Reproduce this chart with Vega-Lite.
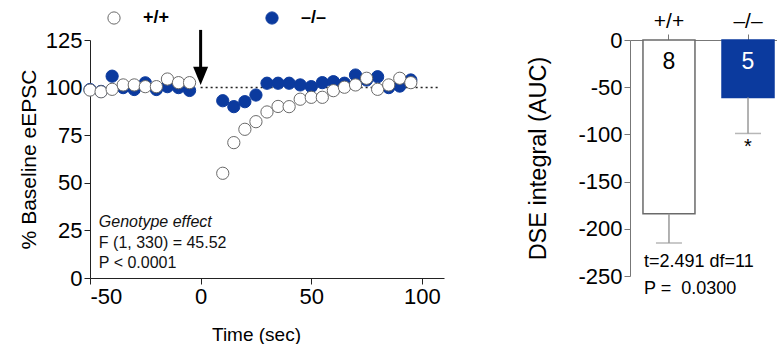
{
  "$schema": "https://vega.github.io/schema/vega-lite/v6.json",
  "padding": {"left": 18, "top": 9, "right": 0, "bottom": 0},
  "spacing": 82,
  "background": "white",
  "config": {
    "view": {"stroke": null},
    "font": "Liberation Sans",
    "axis": {"grid": false, "domainColor": "#222", "tickColor": "#222", "labelColor": "#000", "titleColor": "#000", "labelFont": "Liberation Sans", "titleFont": "Liberation Sans", "titleFontWeight": "normal", "labelFontSize": 21, "tickSize": 6, "labelPadding": 2}
  },
  "datasets": {
    "ts": [
      {"t": -50, "v": 99, "g": "–/–"}, {"t": -45, "v": 98, "g": "–/–"}, {"t": -40, "v": 106, "g": "–/–"}, {"t": -35, "v": 100, "g": "–/–"}, {"t": -30, "v": 99, "g": "–/–"},
      {"t": -25, "v": 102.5, "g": "–/–"}, {"t": -20, "v": 99, "g": "–/–"}, {"t": -15, "v": 100.5, "g": "–/–"}, {"t": -10, "v": 100, "g": "–/–"}, {"t": -5, "v": 98.5, "g": "–/–"},
      {"t": 10, "v": 93.1, "g": "–/–"}, {"t": 15, "v": 90, "g": "–/–"}, {"t": 20, "v": 92.6, "g": "–/–"}, {"t": 25, "v": 96.1, "g": "–/–"}, {"t": 30, "v": 102.3, "g": "–/–"},
      {"t": 35, "v": 102.3, "g": "–/–"}, {"t": 40, "v": 102.3, "g": "–/–"}, {"t": 45, "v": 101.4, "g": "–/–"}, {"t": 50, "v": 100.5, "g": "–/–"}, {"t": 55, "v": 102.6, "g": "–/–"},
      {"t": 60, "v": 103.1, "g": "–/–"}, {"t": 65, "v": 102.3, "g": "–/–"}, {"t": 70, "v": 106.6, "g": "–/–"}, {"t": 75, "v": 104, "g": "–/–"}, {"t": 80, "v": 105.7, "g": "–/–"},
      {"t": 85, "v": 100, "g": "–/–"}, {"t": 90, "v": 100.8, "g": "–/–"}, {"t": 95, "v": 104, "g": "–/–"},
      {"t": -50, "v": 98.7, "g": "+/+"}, {"t": -45, "v": 97.8, "g": "+/+"}, {"t": -40, "v": 99.1, "g": "+/+"}, {"t": -35, "v": 101.4, "g": "+/+"}, {"t": -30, "v": 101.4, "g": "+/+"},
      {"t": -25, "v": 100.5, "g": "+/+"}, {"t": -20, "v": 100.5, "g": "+/+"}, {"t": -15, "v": 104.5, "g": "+/+"}, {"t": -10, "v": 102.6, "g": "+/+"}, {"t": -5, "v": 102.6, "g": "+/+"},
      {"t": 10, "v": 55, "g": "+/+"}, {"t": 15, "v": 71.1, "g": "+/+"}, {"t": 20, "v": 78.1, "g": "+/+"}, {"t": 25, "v": 82.1, "g": "+/+"}, {"t": 30, "v": 87.2, "g": "+/+"},
      {"t": 35, "v": 90.1, "g": "+/+"}, {"t": 40, "v": 90, "g": "+/+"}, {"t": 45, "v": 93.9, "g": "+/+"}, {"t": 50, "v": 94.9, "g": "+/+"}, {"t": 55, "v": 94.9, "g": "+/+"},
      {"t": 60, "v": 98.4, "g": "+/+"}, {"t": 65, "v": 100.2, "g": "+/+"}, {"t": 70, "v": 101.4, "g": "+/+"}, {"t": 75, "v": 104.9, "g": "+/+"}, {"t": 80, "v": 99.1, "g": "+/+"},
      {"t": 85, "v": 101.4, "g": "+/+"}, {"t": 90, "v": 104.9, "g": "+/+"}, {"t": 95, "v": 102.6, "g": "+/+"}
    ],
    "dse": [
      {"g": "+/+", "mean": -184, "lo": -215, "n": "8"},
      {"g": "–/–", "mean": -61, "lo": -99, "n": "5"}
    ],
    "one": [{}]
  },
  "hconcat": [
    {
      "width": 354,
      "height": 238,
      "layer": [
        {
          "data": {"name": "one"},
          "mark": {"type": "rule", "strokeDash": [2, 3], "strokeWidth": 1.5, "color": "#222"},
          "encoding": {
            "x": {"datum": 0, "type": "quantitative", "scale": {"domain": [-50, 110], "nice": false, "zero": false}},
            "x2": {"datum": 108},
            "y": {"datum": 100, "type": "quantitative", "scale": {"domain": [0, 125], "nice": false}}
          }
        },
        {
          "data": {"name": "ts"},
          "mark": {"type": "point", "filled": true, "size": 150, "strokeWidth": 1, "opacity": 1},
          "encoding": {
            "x": {"field": "t", "type": "quantitative", "scale": {"domain": [-50, 110], "nice": false, "zero": false},
              "axis": {"values": [-50, 0, 50, 100], "labelExpr": "toString(datum.value)", "title": "Time (sec)", "titleFontSize": 19, "titlePadding": 18, "titleX": 166, "labelFontSize": 22}},
            "y": {"field": "v", "type": "quantitative", "scale": {"domain": [0, 125], "nice": false},
              "axis": {"values": [0, 25, 50, 75, 100, 125], "title": "% Baseline eEPSC", "titleFontSize": 21, "titlePadding": 6, "labelFontSize": 22}},
            "fill": {"field": "g", "type": "nominal", "scale": {"domain": ["+/+", "–/–"], "range": ["#ffffff", "#0b3a9e"]},
              "legend": {"orient": "none", "legendX": 15, "legendY": -31, "direction": "horizontal", "title": null, "labelFontSize": 18, "labelFontWeight": "bold", "labelFont": "Liberation Sans", "symbolSize": 150, "symbolStrokeWidth": 1, "labelOffset": 20, "columnPadding": 93, "symbolType": "circle", "padding": 0}},
            "stroke": {"field": "g", "type": "nominal", "scale": {"domain": ["+/+", "–/–"], "range": ["#6a6a6a", "#0b3a9e"]},
              "legend": {"orient": "none", "legendX": 15, "legendY": -31, "direction": "horizontal", "title": null, "labelFontSize": 18, "labelFontWeight": "bold", "labelFont": "Liberation Sans", "symbolSize": 150, "symbolStrokeWidth": 1, "labelOffset": 20, "columnPadding": 93, "symbolType": "circle", "padding": 0}}
          }
        },
        {
          "data": {"name": "one"},
          "mark": {"type": "rule", "strokeWidth": 3, "color": "#000"},
          "encoding": {"x": {"datum": 0, "type": "quantitative"}, "y": {"datum": 130.3, "type": "quantitative"}, "y2": {"datum": 110.5}}
        },
        {
          "data": {"name": "one"},
          "mark": {"type": "point", "shape": "M-1,-1.22L1,-1.22L0,1.22Z", "size": 225, "filled": true, "color": "#000", "opacity": 1},
          "encoding": {"x": {"datum": 0, "type": "quantitative"}, "y": {"datum": 106.2, "type": "quantitative"}}
        },
        {
          "data": {"name": "one"},
          "mark": {"type": "text", "align": "left", "baseline": "alphabetic", "fontSize": 16, "fontStyle": "italic", "color": "#111"},
          "encoding": {"x": {"datum": -46, "type": "quantitative"}, "y": {"datum": 26.8, "type": "quantitative"}, "text": {"value": "Genotype effect"}}
        },
        {
          "data": {"name": "one"},
          "mark": {"type": "text", "align": "left", "baseline": "alphabetic", "fontSize": 16, "color": "#111"},
          "encoding": {"x": {"datum": -46, "type": "quantitative"}, "y": {"datum": 15.8, "type": "quantitative"}, "text": {"value": "F (1, 330) = 45.52"}}
        },
        {
          "data": {"name": "one"},
          "mark": {"type": "text", "align": "left", "baseline": "alphabetic", "fontSize": 16, "color": "#111"},
          "encoding": {"x": {"datum": -46, "type": "quantitative"}, "y": {"datum": 5.3, "type": "quantitative"}, "text": {"value": "P < 0.0001"}}
        }
      ]
    },
    {
      "width": 150,
      "height": 236,
      "data": {"name": "dse"},
      "encoding": {
        "x": {"field": "g", "type": "nominal", "sort": null,
          "scale": {"domain": ["+/+", "–/–"], "paddingInner": 0.342, "paddingOuter": 0.12, "align": 0.684},
          "axis": {"orient": "top", "title": null, "labelAngle": 0, "labelFontSize": 21, "domainColor": "#777", "tickColor": "#777", "labelPadding": 3}}
      },
      "layer": [
        {
          "mark": {"type": "bar", "strokeWidth": 1.5},
          "encoding": {
            "y": {"field": "mean", "type": "quantitative", "scale": {"domain": [-250, 0], "nice": false},
              "axis": {"values": [-250, -200, -150, -100, -50, 0], "labelExpr": "toString(datum.value)", "title": "DSE integral (AUC)", "titleFontSize": 23.5, "labelFontSize": 22, "titlePadding": 27, "domainColor": "#777", "tickColor": "#777"}},
            "fill": {"field": "g", "type": "nominal", "scale": {"domain": ["+/+", "–/–"], "range": ["#ffffff", "#0b3a9e"]}, "legend": null},
            "stroke": {"field": "g", "type": "nominal", "scale": {"domain": ["+/+", "–/–"], "range": ["#222222", "#0a2a80"]}, "legend": null}
          }
        },
        {
          "mark": {"type": "rule", "color": "#999", "strokeWidth": 1.5},
          "encoding": {"y": {"field": "mean", "type": "quantitative"}, "y2": {"field": "lo"}}
        },
        {
          "mark": {"type": "tick", "color": "#999", "size": 26, "thickness": 1.5, "orient": "horizontal"},
          "encoding": {"y": {"field": "lo", "type": "quantitative"}}
        },
        {
          "mark": {"type": "text", "fontSize": 23, "baseline": "middle"},
          "encoding": {
            "y": {"datum": -23, "type": "quantitative"},
            "text": {"field": "n"},
            "color": {"field": "g", "type": "nominal", "scale": {"domain": ["+/+", "–/–"], "range": ["#000000", "#ffffff"]}, "legend": null}
          }
        },
        {
          "transform": [{"filter": "datum.g === '–/–'"}],
          "mark": {"type": "text", "fontSize": 20, "baseline": "middle", "color": "#000"},
          "encoding": {"y": {"datum": -113, "type": "quantitative"}, "text": {"value": "*"}}
        },
        {
          "transform": [{"filter": "datum.g === '+/+'"}],
          "mark": {"type": "text", "fontSize": 18, "align": "left", "baseline": "alphabetic", "color": "#000", "dx": 1},
          "encoding": {"x": {"field": "g", "type": "nominal", "bandPosition": 0}, "y": {"datum": -240.5, "type": "quantitative"}, "text": {"value": "t=2.491 df=11"}}
        },
        {
          "transform": [{"filter": "datum.g === '+/+'"}],
          "mark": {"type": "text", "fontSize": 18, "align": "left", "baseline": "alphabetic", "color": "#000", "dx": 1},
          "encoding": {"x": {"field": "g", "type": "nominal", "bandPosition": 0}, "y": {"datum": -269.5, "type": "quantitative"}, "text": {"value": "P = \u00a00.0300"}}
        }
      ]
    }
  ]
}
